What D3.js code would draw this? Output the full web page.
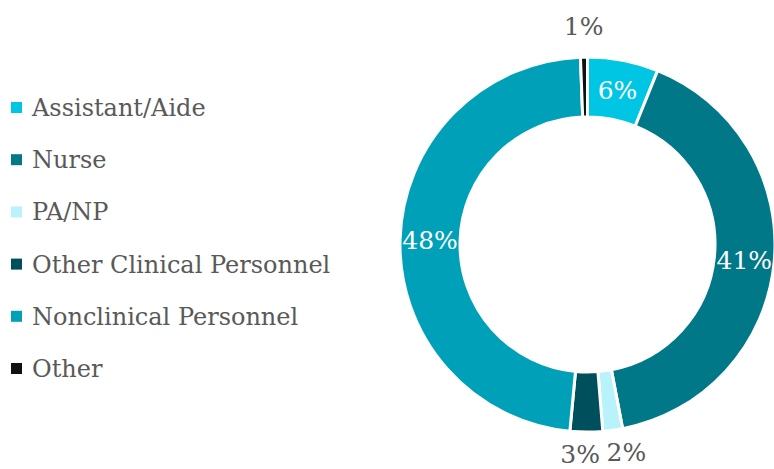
<!DOCTYPE html>
<html><head><meta charset="utf-8">
<script src="https://cdn.jsdelivr.net/npm/d3@7"></script>
<style>html,body{margin:0;padding:0;background:#fff;}svg{display:block;}</style>
</head><body>
<svg id="chart" width="774" height="469"></svg>
<script>
const categories = ["Assistant/Aide","Nurse","PA/NP","Other Clinical Personnel","Nonclinical Personnel","Other"];
const values = [6.1, 40.9, 1.7, 2.8, 47.9, 0.6];
const labels = ["6%","41%","2%","3%","48%","1%"];
const colors = ["#00C6E4","#007888","#B8F3FB","#004F5C","#00A1B8","#111111"];
const labelInside = [true,true,false,false,true,false];

const svg = d3.select("#chart");
const font = "'DejaVu Serif', serif";
const cx = 587.5, cy = 244.5, rOuter = 187.5, rInner = 127.5;

const pie = d3.pie().sort(null).value(d=>d);
const arcs = pie(values);
const arc = d3.arc().innerRadius(rInner).outerRadius(rOuter);
const g = svg.append("g").attr("transform",`translate(${cx},${cy})`);
g.selectAll("path").data(arcs).join("path")
  .attr("d",arc).attr("fill",(d,i)=>colors[i])
  .attr("stroke","#fff").attr("stroke-width",3);

const labelArc = d3.arc().innerRadius((rInner+rOuter)/2).outerRadius((rInner+rOuter)/2);
const outArc = d3.arc().innerRadius(rOuter+20).outerRadius(rOuter+20);
const nudge = {2:[11,2], 3:[-6,2], 5:[0,-11]};
g.selectAll("text.lbl").data(arcs).join("text")
  .attr("class","lbl")
  .attr("transform",(d,i)=>{
    let p = labelInside[i] ? labelArc.centroid(d) : outArc.centroid(d);
    const n = nudge[i] || [0,0];
    return `translate(${p[0]+n[0]},${p[1]+n[1]})`;
  })
  .attr("text-anchor","middle").attr("dy","0.35em")
  .attr("font-family",font).attr("font-size",25)
  .attr("fill",(d,i)=>labelInside[i]?"#fff":"#595959")
  .text((d,i)=>labels[i]);

const leg = svg.append("g");
const rows = leg.selectAll("g").data(categories).join("g")
  .attr("transform",(d,i)=>`translate(0,${116+i*52.2})`);
rows.append("rect").attr("x",11).attr("y",-14).attr("width",11).attr("height",11)
  .attr("fill",(d,i)=>colors[i]);
rows.append("text").attr("x",32).attr("y",0)
  .attr("font-family",font).attr("font-size",24).attr("fill","#595959")
  .text(d=>d);
</script>
</body></html>
